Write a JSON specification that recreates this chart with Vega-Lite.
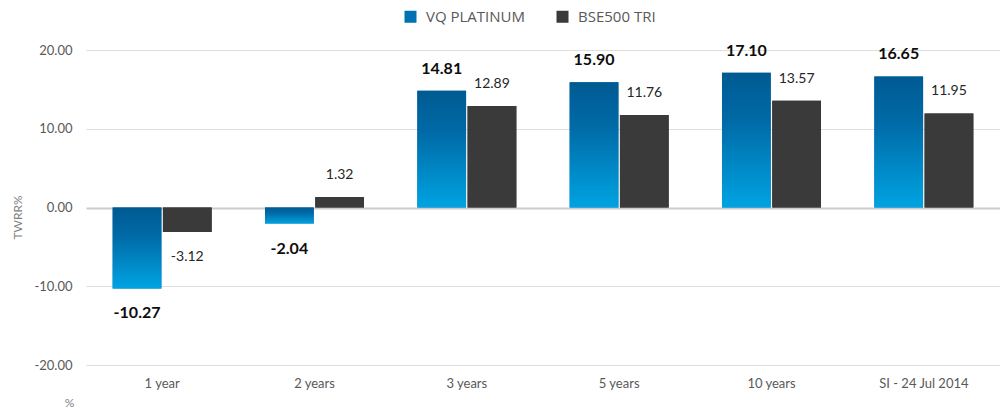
{
  "$schema": "https://vega.github.io/schema/vega-lite/v6.json",
  "width": 914,
  "height": 315,
  "autosize": {"type": "none"},
  "padding": {"left": 86, "top": 50, "right": 0, "bottom": 44},
  "background": "white",
  "config": {
    "view": {"stroke": null},
    "locale": {"number": {"decimal": ".", "thousands": ",", "grouping": [3], "currency": ["$", ""], "minus": "-"}}
  },
  "data": {
    "values": [
      {"period": "1 year", "series": "VQ PLATINUM", "value": -10.27},
      {"period": "1 year", "series": "BSE500 TRI", "value": -3.12},
      {"period": "2 years", "series": "VQ PLATINUM", "value": -2.04},
      {"period": "2 years", "series": "BSE500 TRI", "value": 1.32},
      {"period": "3 years", "series": "VQ PLATINUM", "value": 14.81},
      {"period": "3 years", "series": "BSE500 TRI", "value": 12.89},
      {"period": "5 years", "series": "VQ PLATINUM", "value": 15.90},
      {"period": "5 years", "series": "BSE500 TRI", "value": 11.76},
      {"period": "10 years", "series": "VQ PLATINUM", "value": 17.10},
      {"period": "10 years", "series": "BSE500 TRI", "value": 13.57},
      {"period": "SI - 24 Jul 2014", "series": "VQ PLATINUM", "value": 16.65},
      {"period": "SI - 24 Jul 2014", "series": "BSE500 TRI", "value": 11.95}
    ]
  },
  "encoding": {
    "x": {
      "field": "period",
      "type": "nominal",
      "sort": ["1 year", "2 years", "3 years", "5 years", "10 years", "SI - 24 Jul 2014"],
      "scale": {"paddingInner": 0.35, "paddingOuter": 0.175},
      "axis": {
        "labelAngle": 0,
        "domain": false,
        "ticks": false,
        "grid": false,
        "labelPadding": 12,
        "labelFont": "Lato",
        "labelFontSize": 13,
        "labelColor": "#595959",
        "title": "%",
        "titleFont": "Lato",
        "titleFontSize": 12,
        "titleFontWeight": "normal",
        "titleColor": "#7f7f7f",
        "titleX": -17,
        "titleY": 37,
        "titleAlign": "center",
        "titleBaseline": "middle"
      }
    },
    "xOffset": {
      "field": "series",
      "type": "nominal",
      "sort": ["VQ PLATINUM", "BSE500 TRI"],
      "scale": {"domain": ["VQ PLATINUM", "BSE500 TRI"], "paddingInner": 0.03}
    },
    "y": {
      "field": "value",
      "type": "quantitative",
      "scale": {"domain": [-20, 20], "nice": false},
      "axis": {
        "values": [-20, -10, 0, 10, 20],
        "format": ".2f",
        "domain": false,
        "ticks": false,
        "labelPadding": 14,
        "labelFont": "Lato",
        "labelFontSize": 13,
        "labelColor": "#595959",
        "gridColor": {"condition": {"test": "datum.value === 0", "value": "#cccccc"}, "value": "#dedede"},
        "gridWidth": {"condition": {"test": "datum.value === 0", "value": 2}, "value": 1},
        "title": "TWRR%",
        "titleFont": "Lato",
        "titleFontSize": 12,
        "titleFontWeight": "normal",
        "titleColor": "#7f7f7f",
        "titleX": -69,
        "titleY": 167,
        "titleAlign": "center",
        "titleBaseline": "middle"
      }
    }
  },
  "layer": [
    {
      "mark": {"type": "bar"},
      "encoding": {
        "color": {
          "field": "series",
          "type": "nominal",
          "scale": {"domain": ["VQ PLATINUM", "BSE500 TRI"], "range": ["#0072b4", "#3a3a3a"]},
          "legend": {
            "title": null,
            "orient": "none",
            "legendX": 317,
            "legendY": -41,
            "direction": "horizontal",
            "symbolType": "square",
            "symbolSize": 144,
            "symbolStrokeWidth": 0,
            "symbolOpacity": 1,
            "labelFont": "Open Sans",
            "labelFontSize": 15,
            "labelColor": "#595959",
            "labelOffset": 8,
            "columnPadding": 29
          }
        }
      }
    },
    {
      "mark": {"type": "bar"},
      "encoding": {
        "fill": {
          "condition": {
            "test": "datum.series === 'VQ PLATINUM'",
            "value": {"gradient": "linear", "x1": 0, "y1": 0, "x2": 0, "y2": 1,
              "stops": [{"offset": 0, "color": "#005a92"}, {"offset": 0.35, "color": "#006aa6"}, {"offset": 1, "color": "#00a3e2"}]}
          },
          "value": "#3a3a3a"
        }
      }
    },
    {
      "transform": [{"filter": "datum.series === 'VQ PLATINUM' && datum.value >= 0"}],
      "mark": {"type": "text", "font": "Lato", "fontSize": 16, "fontWeight": "bold", "color": "#0d0d0d", "baseline": "middle", "dy": -22},
      "encoding": {"text": {"field": "value", "type": "quantitative", "format": ".2f"}}
    },
    {
      "transform": [{"filter": "datum.series === 'VQ PLATINUM' && datum.value < 0"}],
      "mark": {"type": "text", "font": "Lato", "fontSize": 16, "fontWeight": "bold", "color": "#0d0d0d", "baseline": "middle", "dy": 25},
      "encoding": {"text": {"field": "value", "type": "quantitative", "format": ".2f"}}
    },
    {
      "transform": [{"filter": "datum.series === 'BSE500 TRI' && datum.value >= 0"}],
      "mark": {"type": "text", "font": "Lato", "fontSize": 14, "color": "#262626", "baseline": "middle", "dy": -22},
      "encoding": {"text": {"field": "value", "type": "quantitative", "format": ".2f"}}
    },
    {
      "transform": [{"filter": "datum.series === 'BSE500 TRI' && datum.value < 0"}],
      "mark": {"type": "text", "font": "Lato", "fontSize": 14, "color": "#262626", "baseline": "middle", "dy": 25},
      "encoding": {"text": {"field": "value", "type": "quantitative", "format": ".2f"}}
    }
  ]
}
